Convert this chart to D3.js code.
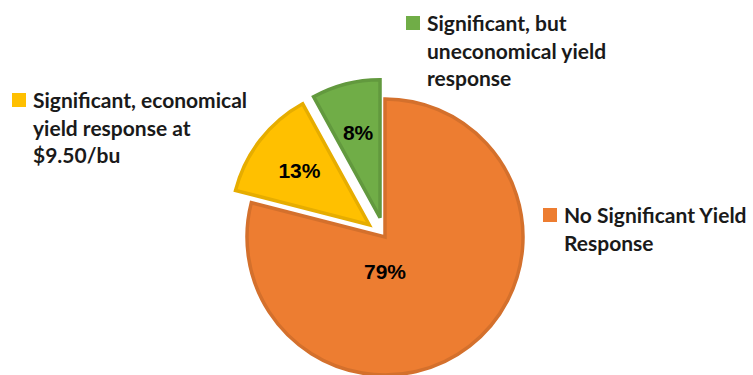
<!DOCTYPE html>
<html>
<head>
<meta charset="utf-8">
<script src="https://cdn.jsdelivr.net/npm/d3@7"></script>
<style>
  body { margin: 0; background: #fff; }
  svg { display: block; }
</style>
</head>
<body>
<svg id="chart"></svg>
<script>
'use strict';

// chart data
var categories = ['No Significant Yield Response', 'Significant, economical yield response at $9.50/bu', 'Significant, but uneconomical yield response'];
var values = [79, 13, 8];
var legendLines = [
  ['No Significant Yield', 'Response'],
  ['Significant, economical', 'yield response at', '$9.50/bu'],
  ['Significant, but', 'uneconomical yield', 'response']
];
var exploded = [false, true, true];

var width = 753,
  height = 375,
  cx = 385,
  cy = 237,
  radius = 138,
  explode = 20;

var fills = d3.scaleOrdinal().domain(categories).range(['#ED7D31', '#FFC000', '#70AD47']);
var strokes = d3.scaleOrdinal().domain(categories).range(['#D4702C', '#E6AD00', '#62993E']);

var svg = d3.select('#chart')
  .attr('width', width)
  .attr('height', height);

var data = categories.map(function (c, i) {
  return { name: c, value: values[i], exploded: exploded[i], lines: legendLines[i] };
});

var pie = d3.pie()
  .sort(null)
  .value(function (d) { return d.value; });

var arc = d3.arc().innerRadius(0).outerRadius(radius);
var labelArc = d3.arc().innerRadius(0).outerRadius(radius * 1.28);
var offsetArc = d3.arc().innerRadius(0).outerRadius(explode * 2);

var arcs = pie(data);

var g = svg.append('g')
  .attr('transform', 'translate(' + cx + ',' + cy + ')');

var slice = g.selectAll('.slice')
  .data(arcs)
  .enter().append('g')
  .attr('class', 'slice')
  .attr('transform', function (d) {
    if (!d.data.exploded) return null;
    var o = offsetArc.centroid(d);
    return 'translate(' + o[0] + ',' + o[1] + ')';
  });

slice.append('path')
  .attr('d', arc)
  .attr('fill', function (d) { return fills(d.data.name); })
  .attr('stroke', function (d) { return strokes(d.data.name); })
  .attr('stroke-width', 3.5)
  .attr('stroke-linejoin', 'miter');

slice.append('text')
  .attr('transform', function (d) {
    var p = d.data.exploded ? labelArc.centroid(d) : [0, radius * 0.25];
    return 'translate(' + p[0] + ',' + p[1] + ')';
  })
  .attr('dy', '0.36em')
  .attr('text-anchor', 'middle')
  .style('font-family', '"Liberation Sans", Arial, sans-serif')
  .style('font-weight', 'bold')
  .style('font-size', '21px')
  .attr('fill', '#000')
  .text(function (d) { return d.data.value + '%'; });

// legend entries placed beside their slices
var legendPos = [
  { x: 543, y: 208 },
  { x: 12, y: 93 },
  { x: 406, y: 16 }
];

var legend = svg.selectAll('.legend')
  .data(data)
  .enter().append('g')
  .attr('class', 'legend')
  .attr('transform', function (d, i) { return 'translate(' + legendPos[i].x + ',' + legendPos[i].y + ')'; });

legend.append('rect')
  .attr('width', 14)
  .attr('height', 14)
  .attr('fill', function (d) { return fills(d.name); });

legend.append('text')
  .attr('x', 21)
  .attr('y', 15)
  .style('font-family', 'Lato, "Open Sans", sans-serif')
  .style('font-weight', 'bold')
  .style('font-size', '21px')
  .attr('fill', '#1a1a1a')
  .selectAll('tspan')
  .data(function (d) { return d.lines; })
  .enter().append('tspan')
  .attr('x', 21)
  .attr('dy', function (d, i) { return i === 0 ? 0 : 27.5; })
  .text(function (d) { return d; });
</script>
</body>
</html>
